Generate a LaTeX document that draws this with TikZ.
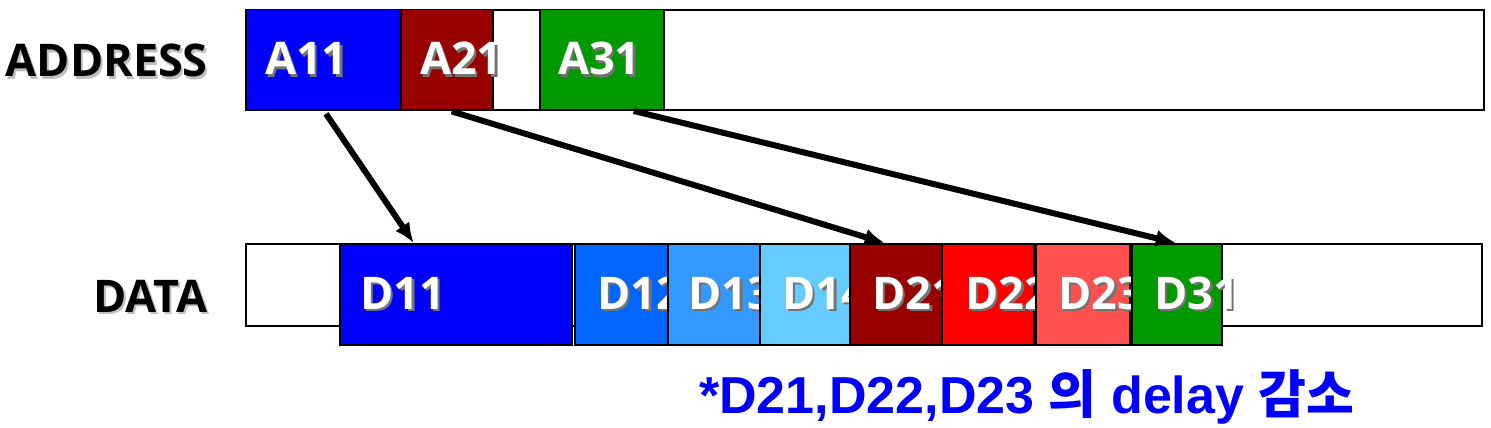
\documentclass[tikz,border=0pt]{standalone}
\usepackage{fontspec}
\setmainfont{Open Sans}
\newfontfamily\notefont{Liberation Sans}
\newfontfamily\krfont{Noto Sans CJK KR}
\usepackage{xcolor}
\usepackage{tikz}
\usetikzlibrary{positioning, arrows.meta}
\definecolor{cblue}{HTML}{0000FF}
\definecolor{cdred}{HTML}{990000}
\definecolor{cgreen}{HTML}{009900}
\definecolor{cblueb}{HTML}{0066FF}
\definecolor{cbluec}{HTML}{3399FF}
\definecolor{cblued}{HTML}{66CCFF}
\definecolor{cred}{HTML}{FF0000}
\definecolor{credl}{HTML}{FF5050}
\newcommand{\shadowed}[1]{\makebox[0pt][l]{\hspace{2.5pt}\raisebox{-2.5pt}{\textcolor{black!55}{#1}}}#1}
\newcommand{\softshadow}[1]{\makebox[0pt][l]{\hspace{2pt}\raisebox{-2pt}{\textcolor{black!25}{#1}}}#1}
\tikzset{
  bar/.style     = {rectangle, draw=black, line width=2pt, fill=white,
                    anchor=north west, inner sep=0pt},
  cell/.style    = {rectangle, draw=black, line width=1.5pt,
                    anchor=north west, inner sep=0pt},
  celltxt/.style = {inner sep=0pt, text=white,
                    font=\fontsize{45}{50}\selectfont\bfseries},
  rowtxt/.style  = {inner sep=0pt, anchor=base east, text=black,
                    font=\fontsize{45}{50}\selectfont\bfseries},
  arr/.style     = {-{Latex[length=20pt,width=17pt]}, line width=6pt, draw=black},
}

\begin{document}
\begin{tikzpicture}[x=1pt, y=-1pt]
  \useasboundingbox (0,0) rectangle (1491,428);

  % address row
  \node[bar, minimum width=1238pt, minimum height=100pt] (abar) at (245,9) {};
  \node[rowtxt] (alab) at (208,77) {\softshadow{ADDRESS}};

  \node[cell, fill=cblue, minimum width=155pt, minimum height=100pt] (a11) at (245,9) {};
  \node[celltxt, right=20pt of a11.west] (a11t) {\shadowed{A11}};
  \node[cell, fill=cdred, minimum width=92pt, minimum height=100pt] (a21) at (400,9) {};
  \node[celltxt, right=20pt of a21.west] (a21t) {\shadowed{A21}};
  \node[cell, fill=cgreen, minimum width=124pt, minimum height=100pt] (a31) at (539,9) {};
  \node[celltxt, right=19pt of a31.west] (a31t) {\shadowed{A31}};

  % data row
  \node[bar, minimum width=1236pt, minimum height=82pt] (dbar) at (245,243) {};
  \node[rowtxt] (dlab) at (208,312) {\softshadow{DATA}};

  \node[cell, fill=cblue, minimum width=232pt, minimum height=101pt] (d11) at (339,243) {};
  \node[celltxt, right=21pt of d11.west] (d11t) {\shadowed{D11}};
  \node[cell, fill=cblueb, minimum width=93pt, minimum height=101pt] (d12) at (574,243) {};
  \node[celltxt, right=23pt of d12.west] (d12t) {\shadowed{D12}};
  \node[cell, fill=cbluec, minimum width=92pt, minimum height=101pt] (d13) at (667,243) {};
  \node[celltxt, right=21pt of d13.west] (d13t) {\shadowed{D13}};
  \node[cell, fill=cblued, minimum width=90pt, minimum height=101pt] (d14) at (759,243) {};
  \node[celltxt, right=23pt of d14.west] (d14t) {\shadowed{D14}};
  \node[cell, fill=cdred, minimum width=92pt, minimum height=101pt] (d21) at (849,243) {};
  \node[celltxt, right=23pt of d21.west] (d21t) {\shadowed{D21}};
  \node[cell, fill=cred, minimum width=92pt, minimum height=101pt] (d22) at (941,243) {};
  \node[celltxt, right=24pt of d22.west] (d22t) {\shadowed{D22}};
  \node[cell, fill=credl, minimum width=94pt, minimum height=101pt] (d23) at (1035,243) {};
  \node[celltxt, right=23pt of d23.west] (d23t) {\shadowed{D23}};
  \node[cell, fill=cgreen, minimum width=90pt, minimum height=101pt] (d31) at (1131,243) {};
  \node[celltxt, right=23pt of d31.west] (d31t) {\shadowed{D31}};

  % note
  \node[inner sep=0pt, anchor=base west, text=cblue,
        font=\fontsize{52}{58}\selectfont\bfseries] (note) at (699,413)
        {\notefont *D21,D22,D23 {\krfont 의} delay {\krfont 감소}};

  \draw[arr, shorten <=4pt] ([xshift=0.5pt]a11.south) -- ([xshift=-42pt]d11.north);
  \draw[arr, shorten <=3pt] ([xshift=2pt]a21.south) -- ([xshift=-11pt]d21.north);
  \draw[arr, shorten <=2pt] ([xshift=30pt]a31.south) -- ([xshift=-1pt]d31.north);

\end{tikzpicture}
\end{document}
